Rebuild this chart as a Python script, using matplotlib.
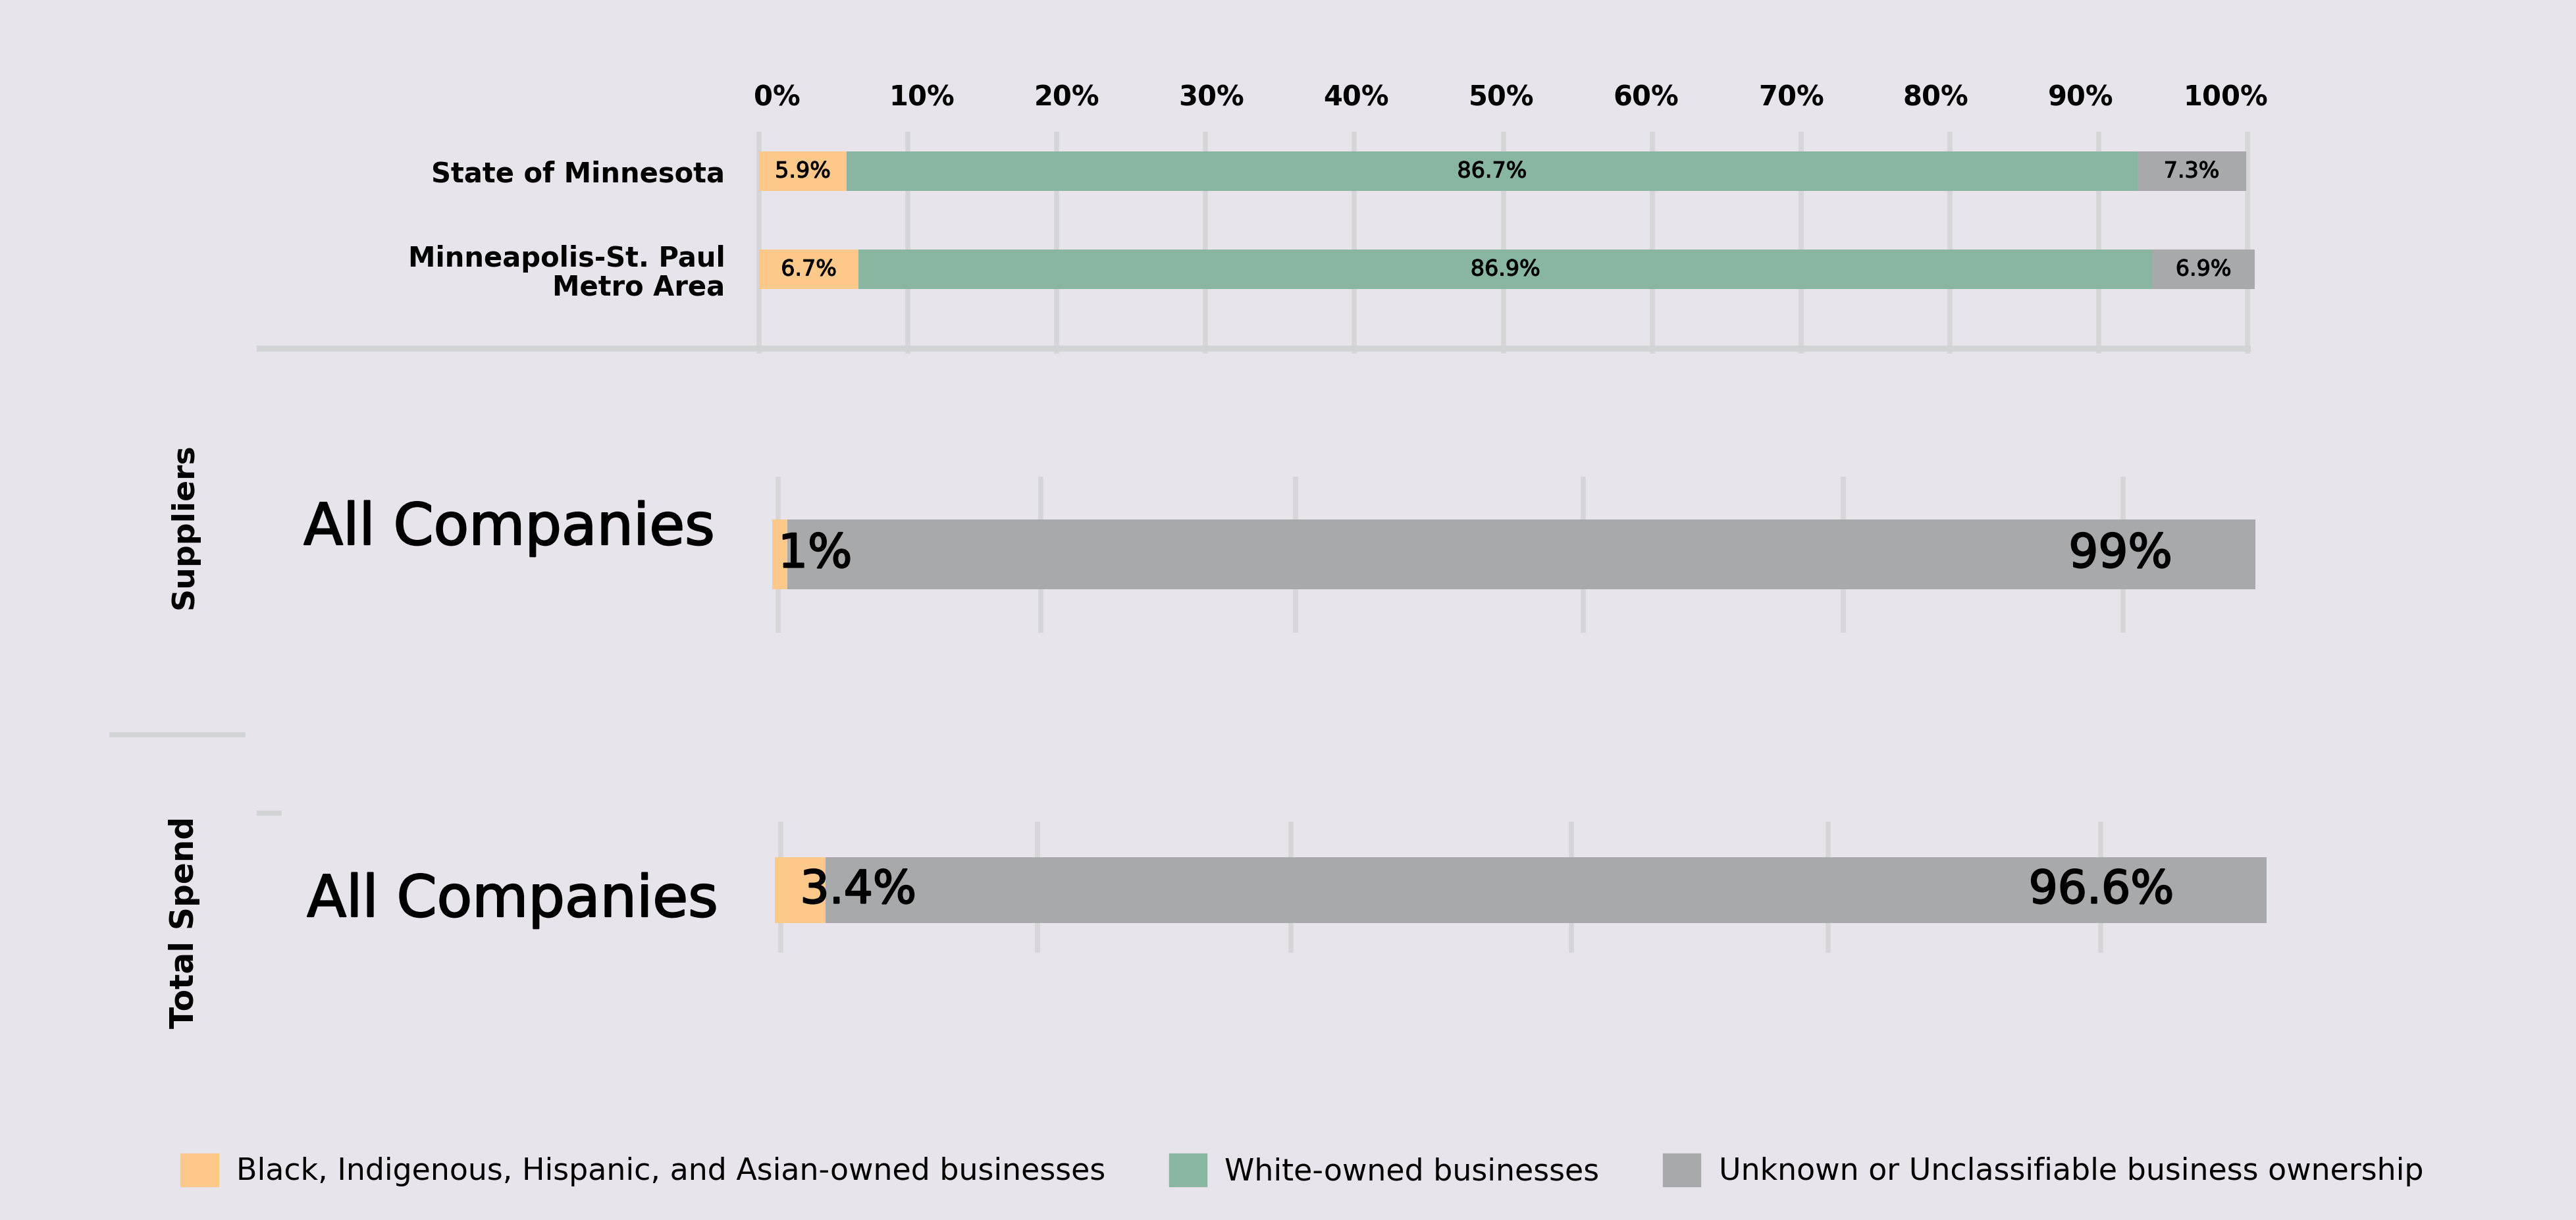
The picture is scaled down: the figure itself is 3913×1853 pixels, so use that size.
import matplotlib
matplotlib.use("Agg")
import matplotlib.pyplot as plt
import matplotlib.patheffects as pe
from matplotlib.patches import Patch
from matplotlib.lines import Line2D

# data
regions = ["State of Minnesota", "Minneapolis-St. Paul\nMetro Area"]
bipoc_region = [5.9, 6.7]
white_region = [86.7, 86.9]
unknown_region = [7.3, 6.9]

supplier_bipoc = 1
supplier_unknown = 99
spend_bipoc = 3.4
spend_unknown = 96.6

top_ticks = [0, 10, 20, 30, 40, 50, 60, 70, 80, 90, 100]
supplier_grid = [0.4, 18.1, 35.3, 54.7, 72.2, 91.1]
spend_grid = [0.4, 17.6, 34.6, 53.4, 70.6, 88.9]

legend_labels = ["Black, Indigenous, Hispanic, and Asian-owned businesses",
                 "White-owned businesses",
                 "Unknown or Unclassifiable business ownership"]

# colours
BG = "#E8E4EC"
ORANGE = "#FDC98B"
GREEN = "#88B6A1"
GREY = "#A8A9AB"
GRID = "#D6D6D8"
LINE = "#D2D3D5"

W, H = 3913, 1853
plt.rcParams["font.family"] = ["DejaVu Sans"]

# fake a "medium" weight by stroking regular text
medium = [pe.withStroke(linewidth=1.6, foreground="black")]
medium_small = [pe.withStroke(linewidth=0.8, foreground="black")]


def box(x0, y0, x1, y1):
    # pixel box (top-left origin) -> figure fraction rect
    return [x0 / W, 1 - y1 / H, (x1 - x0) / W, (y1 - y0) / H]


def clean(ax):
    ax.set_facecolor("none")
    for s in ax.spines.values():
        s.set_visible(False)
    ax.set_axisbelow(True)
    ax.tick_params(length=0)


fig = plt.figure(figsize=(W / 100, H / 100), dpi=100, facecolor=BG)

# ---- top panel: region comparison
ax1 = fig.add_axes(box(1153 - 11.3, 200, 3414 + 11.3, 537))
clean(ax1)
ypos = [0, 1]
h = 0.403
ax1.barh(ypos, bipoc_region, height=h, color=ORANGE)
ax1.barh(ypos, white_region, left=bipoc_region, height=h, color=GREEN)
lefts = [a + b for a, b in zip(bipoc_region, white_region)]
ax1.barh(ypos, unknown_region, left=lefts, height=h, color=GREY)
ax1.set_xlim(-0.5, 100.5)
ax1.set_ylim(1.859, -0.403)
ax1.set_xticks(top_ticks)
ax1.set_xticklabels([])
ax1.grid(axis="x", color=GRID, lw=5.5)
ax1.set_yticks(ypos)
ax1.set_yticklabels(regions, fontsize=30, fontweight="bold", ha="right",
                    multialignment="right", linespacing=1.05)
ax1.tick_params(axis="y", pad=29)
for i in range(len(regions)):
    ax1.text(bipoc_region[i] / 2, i, f"{bipoc_region[i]}%", ha="center", va="center",
             fontsize=24, path_effects=medium_small)
    ax1.text(bipoc_region[i] + white_region[i] / 2, i, f"{white_region[i]}%",
             ha="center", va="center", fontsize=24, path_effects=medium_small)
    ax1.text(lefts[i] + unknown_region[i] / 2, i, f"{unknown_region[i]}%",
             ha="center", va="center", fontsize=24, path_effects=medium_small)

# percentage labels sit on a slightly narrower scale than the grid
axl = fig.add_axes(box(1180, 200, 3381, 537))
clean(axl)
axl.set_xlim(0, 100)
axl.set_xticks(top_ticks)
axl.set_xticklabels([f"{t}%" for t in top_ticks], fontsize=30, fontweight="bold")
axl.xaxis.tick_top()
axl.tick_params(axis="x", pad=22)
axl.set_yticks([])

# ---- middle panel: suppliers
ax2 = fig.add_axes(box(1173, 724, 3426, 961))
clean(ax2)
ax2.barh(0, supplier_bipoc, height=0.451, color=ORANGE)
ax2.barh(0, supplier_unknown, left=supplier_bipoc, height=0.451, color=GREY)
ax2.set_xlim(0, 100)
ax2.set_ylim(-0.502, 0.498)
ax2.set_xticks(supplier_grid)
ax2.set_xticklabels([])
ax2.set_yticks([])
ax2.grid(axis="x", color=GRID, lw=5.5)
ax2.text(0.4, 0, f"{supplier_bipoc}%", ha="left", va="center", fontsize=51,
         path_effects=medium)
ax2.text(94.4, 0, f"{supplier_unknown}%", ha="right", va="center", fontsize=51,
         path_effects=medium)

# ---- bottom panel: total spend
ax3 = fig.add_axes(box(1177, 1248, 3443, 1447))
clean(ax3)
ax3.barh(0, spend_bipoc, height=0.5025, color=ORANGE)
ax3.barh(0, spend_unknown, left=spend_bipoc, height=0.5025, color=GREY)
ax3.set_xlim(0, 100)
ax3.set_ylim(-0.477, 0.523)
ax3.set_xticks(spend_grid)
ax3.set_xticklabels([])
ax3.set_yticks([])
ax3.grid(axis="x", color=GRID, lw=5.5)
ax3.text(1.7, 0, f"{spend_bipoc}%", ha="left", va="center", fontsize=50,
         path_effects=medium)
ax3.text(93.8, 0, f"{spend_unknown}%", ha="right", va="center", fontsize=50,
         path_effects=medium)

# ---- side labels
fig.text(1086 / W, 1 - 803 / H, "All Companies", ha="right", va="center", fontsize=63,
         path_effects=medium)
fig.text(1091 / W, 1 - 1368 / H, "All Companies", ha="right", va="center", fontsize=63,
         path_effects=medium)
fig.text(280 / W, 1 - 799 / H, "Suppliers", rotation=90, ha="center", va="center",
         fontsize=34, fontweight="bold")
fig.text(280 / W, 1 - 1401 / H, "Total Spend", rotation=90, ha="center", va="center",
         fontsize=35, fontweight="bold")

# separators
fig.add_artist(Line2D([394 / W, 3414 / W], [1 - 529 / H] * 2, color=LINE, lw=6.5))
fig.add_artist(Line2D([170 / W, 369 / W], [1 - 1116 / H] * 2, color=LINE, lw=5.5))
fig.add_artist(Line2D([394 / W, 424 / W], [1 - 1235 / H] * 2, color=LINE, lw=5.5))

# ---- legend
handles = [Patch(color=c) for c in (ORANGE, GREEN, GREY)]
fig.legend(handles, legend_labels, loc="center", bbox_to_anchor=(0.5054, 1 - 1777 / H),
           ncol=3, frameon=False, fontsize=33, handlelength=1.25, handleheight=1.3,
           handletextpad=0.6, columnspacing=2.1)

fig.savefig("out.png", dpi=100, facecolor=BG)
